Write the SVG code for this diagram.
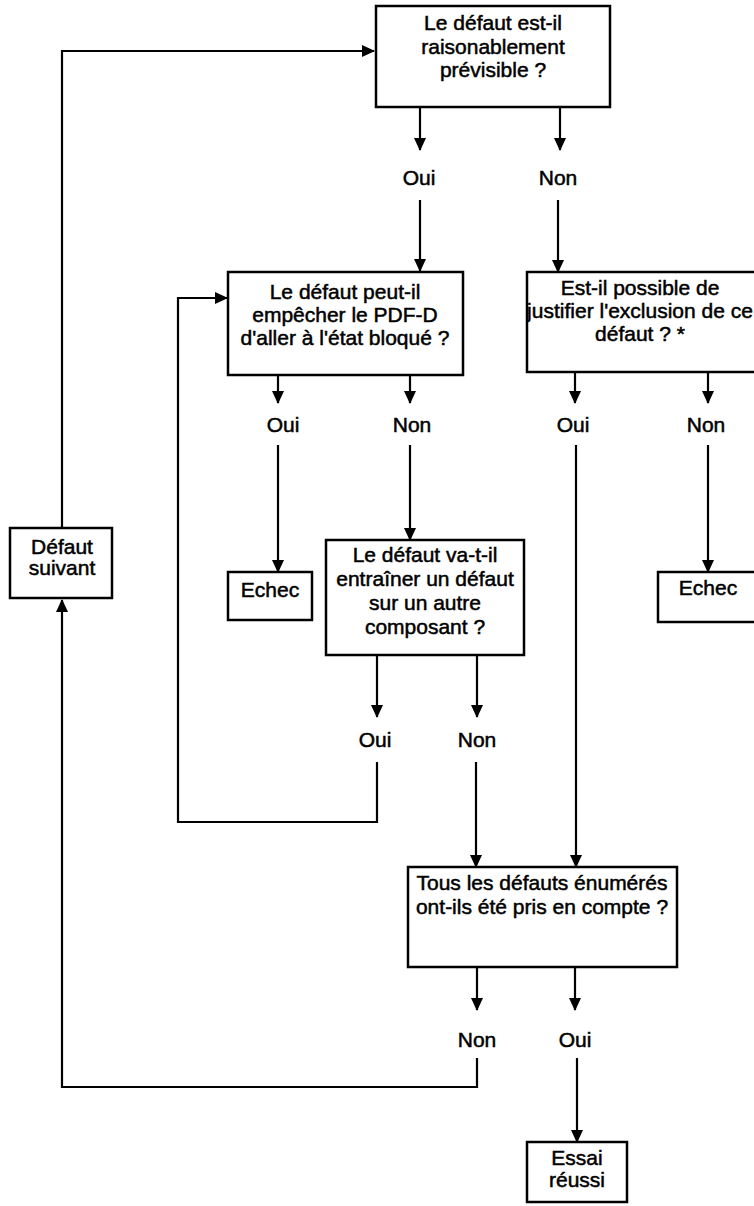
<svg xmlns="http://www.w3.org/2000/svg" width="754" height="1206" viewBox="0 0 754 1206">
<style>
.box{fill:#fff;stroke:#000;stroke-width:2.5}
.t{font-family:"Liberation Sans",Arial,sans-serif;font-size:21px;fill:#000;stroke:#000;stroke-width:0.5;text-anchor:middle}
.c{fill:none;stroke:#000;stroke-width:2.2}
</style>
<defs>
<marker id="ah" markerWidth="13" markerHeight="12" refX="12" refY="6" orient="auto" markerUnits="userSpaceOnUse">
<path d="M0,0 L13,6 L0,12 Z" fill="#000"/>
</marker>
</defs>
<rect width="754" height="1206" fill="#fff"/>
<g id="connectors">
<path class="c" d="M62,528 V51 H374" marker-end="url(#ah)"/>
<path class="c" d="M420,107 V150" marker-end="url(#ah)"/>
<path class="c" d="M560,107 V150" marker-end="url(#ah)"/>
<path class="c" d="M420,200 V271" marker-end="url(#ah)"/>
<path class="c" d="M558,200 V272" marker-end="url(#ah)"/>
<path class="c" d="M278,375 V403" marker-end="url(#ah)"/>
<path class="c" d="M410,375 V403" marker-end="url(#ah)"/>
<path class="c" d="M278,445 V572" marker-end="url(#ah)"/>
<path class="c" d="M410,445 V540" marker-end="url(#ah)"/>
<path class="c" d="M575,372 V403" marker-end="url(#ah)"/>
<path class="c" d="M708,372 V403" marker-end="url(#ah)"/>
<path class="c" d="M576,445 V867" marker-end="url(#ah)"/>
<path class="c" d="M708,445 V572" marker-end="url(#ah)"/>
<path class="c" d="M377,655 V717" marker-end="url(#ah)"/>
<path class="c" d="M477,655 V717" marker-end="url(#ah)"/>
<path class="c" d="M377,762 V822 H178 V298 H227" marker-end="url(#ah)"/>
<path class="c" d="M476,762 V867" marker-end="url(#ah)"/>
<path class="c" d="M477,967 V1010" marker-end="url(#ah)"/>
<path class="c" d="M575,967 V1010" marker-end="url(#ah)"/>
<path class="c" d="M477,1058 V1087 H62 V600" marker-end="url(#ah)"/>
<path class="c" d="M577,1058 V1142" marker-end="url(#ah)"/>
</g>
<g id="q1">
<rect class="box" x="376" y="6" width="234" height="101"/>
<text class="t" x="493" y="30">Le défaut est-il</text>
<text class="t" x="493" y="54">raisonablement</text>
<text class="t" x="493" y="77">prévisible ?</text>
</g>
<g id="l1">
<text class="t" x="419" y="185">Oui</text>
<text class="t" x="558" y="185">Non</text>
</g>
<g id="q2">
<rect class="box" x="228" y="272" width="235" height="103"/>
<text class="t" x="345" y="299">Le défaut peut-il</text>
<text class="t" x="345" y="322">empêcher le PDF-D</text>
<text class="t" x="345" y="345">d'aller à l'état bloqué ?</text>
</g>
<g id="q3">
<rect class="box" x="527" y="272" width="240" height="100"/>
<text class="t" x="640" y="295">Est-il possible de</text>
<text class="t" x="640" y="318">justifier l'exclusion de ce</text>
<text class="t" x="640" y="341">défaut ? *</text>
</g>
<g id="l2">
<text class="t" x="283" y="432">Oui</text>
<text class="t" x="412" y="432">Non</text>
<text class="t" x="573" y="432">Oui</text>
<text class="t" x="706" y="432">Non</text>
</g>
<g id="suivant">
<rect class="box" x="10" y="528" width="102" height="70"/>
<text class="t" x="62" y="554">Défaut</text>
<text class="t" x="62" y="575">suivant</text>
</g>
<g id="echec1">
<rect class="box" x="228" y="572" width="84" height="48"/>
<text class="t" x="270" y="597">Echec</text>
</g>
<g id="q4">
<rect class="box" x="326" y="540" width="198" height="115"/>
<text class="t" x="425" y="562">Le défaut va-t-il</text>
<text class="t" x="425" y="586">entraîner un défaut</text>
<text class="t" x="425" y="610">sur un autre</text>
<text class="t" x="425" y="634">composant ?</text>
</g>
<g id="echec2">
<rect class="box" x="658" y="572" width="110" height="50"/>
<text class="t" x="708" y="595">Echec</text>
</g>
<g id="l3">
<text class="t" x="375" y="747">Oui</text>
<text class="t" x="477" y="747">Non</text>
</g>
<g id="q5">
<rect class="box" x="408" y="867" width="269" height="100"/>
<text class="t" x="542" y="890">Tous les défauts énumérés</text>
<text class="t" x="542" y="914">ont-ils été pris en compte ?</text>
</g>
<g id="l4">
<text class="t" x="477" y="1047">Non</text>
<text class="t" x="575" y="1047">Oui</text>
</g>
<g id="essai">
<rect class="box" x="527" y="1142" width="100" height="60"/>
<text class="t" x="577" y="1165">Essai</text>
<text class="t" x="577" y="1187">réussi</text>
</g>
</svg>
